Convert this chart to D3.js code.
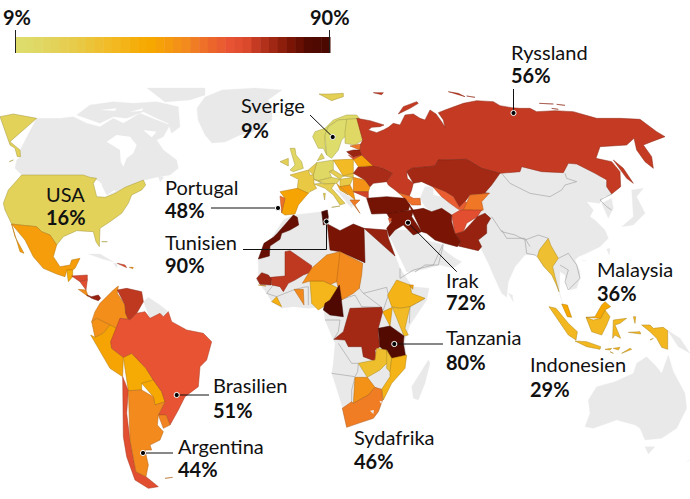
<!DOCTYPE html>
<html>
<head>
<meta charset="utf-8">
<script src="https://cdn.jsdelivr.net/npm/d3@7"></script>
<style>
body { margin: 0; background: #fff; }
text { font-family: Lato, sans-serif; font-size: 20px; fill: #111; }
text.pct { font-weight: 700; }
</style>
</head>
<body>
<div class="chart"></div>
<script>
const width = 690
const height = 499

// share of respondents, by country (labelled ones are exact)
const names = ['USA','Mexico','Guatemala','Honduras','Nicaragua','CostaRica','Panama','DomRep','PuertoRico',
  'Colombia','Venezuela','Ecuador','Peru','Bolivia','Paraguay','Brasilien','Chile','Argentina','Uruguay',
  'Sverige','Norway','Finland','Iceland','UK','Ireland','France','Spain','Portugal','Germany','Benelux','Denmark','Switzerland',
  'Poland','Czech','Slovakia','Austria','Italy','Hungary','Romania','Bulgaria','Serbia','Croatia','Greece',
  'Ukraine','Belarus','Estonia','Latvia','Lithuania','Caucasus','Ryssland','Kazakhstan','Uzbekistan','Kyrgyz',
  'Afghanistan','Pakistan','Iran','Irak','Turkey','Israel','Egypt','Libya','Tunisien','Morocco','Mali','Senegal',
  'Bissau','Ghana','Liberia','Nigeria','Niger','Chad','Cameroon','Ethiopia','Djibouti','Kenya','Uganda','Tanzania','DRC',
  'Zambia','Malawi','Mozambique','Botswana','Sydafrika','Myanmar','Indonesien','Malaysia']
const rates = [16,39,34,53,52,43,66,52,41,
  43,57,42,37,35,36,51,52,44,45,
  9,11,12,17,13,17,21,37,48,12,19,14,16,
  28,18,22,15,18,20,42,54,40,38,46,
  62,38,47,65,52,48,56,63,50,47,
  52,66,72,72,73,50,66,72,90,76,57,64,
  38,44,32,30,43,44,85,31,38,28,34,80,63,
  26,25,31,42,46,25,29,36]

const legendValues = [9,10,12,14,16,18,19,21,23,25,27,29,31,33,35,36,38,40,42,44,46,48,49,50,51,52,53,56,60,64,68,72,76,80,85,90]
const colorStops = [9,16,29,36,44,48,51,56,72,80,90]
const colorRange = ['#dedd6c','#e3d25a','#f3b81f','#f7a800','#f28a1e','#ee7029','#e85333','#c43a22','#7a1404','#530a00','#4a0800']

const labelNames = ['Ryssland','Sverige','USA','Portugal','Tunisien','Irak','Tanzania','Malaysia','Indonesien','Brasilien','Argentina','Sydafrika']
const labelValues = ['56%','9%','16%','48%','90%','72%','80%','36%','29%','51%','44%','46%']

// the map was traced in crops of the picture at 3x, one crop per area
const tiles = {
  na: [0,100], eu: [240,90], ce: [290,120], ru: [430,40], me: [370,150],
  af: [240,200], za: [310,340], se: [480,210], sa: [60,280], oc: [530,330]
}

// grey land, drawn first
const greyLand = [
  ['na',[[110,55],[180,55],[220,50],[260,70],[300,80],[340,55],[370,70],[420,40],[470,60],[510,75],[490,110],[470,120],[490,150],[530,180],[535,205],[510,225],[470,232],[435,240],[400,255],[375,262],[345,278],[320,285],[300,245],[280,235],[250,225],[65,225],[45,205],[50,180],[62,170],[60,150],[30,125]]],
  ['na',[[615,-9],[666,-30],[765,-36],[846,-30],[804,0],[816,24],[816,60],[786,84],[750,99],[720,105],[675,126],[636,129],[615,105],[594,60],[591,24],[636,12]]],
  ['na',[[230,45],[270,15],[340,5],[400,10],[470,5],[535,20],[540,80],[515,100],[505,70],[470,55],[430,35],[380,55],[340,50],[300,70],[260,60]]],
  ['na',[[441,-36],[615,-36],[615,-15],[570,0],[495,6],[450,-6]]],
  ['na',[[475,228],[492,232],[480,245],[470,238]]],
  ['na',[[265,462],[300,462],[340,485],[310,478],[280,470]]],
  ['na',[[340,490],[352,490],[350,505],[340,500]]],
  ['sa',[[250,65],[265,52],[300,75],[325,95],[310,110],[300,100],[270,115],[255,95]]],
  ['af',[[130,60],[160,45],[245,35],[258,60],[265,72],[300,92],[340,72],[372,85],[440,90],[465,165],[480,205],[510,250],[520,260],[567,265],[560,300],[510,375],[495,420],[497,470],[485,510],[450,550],[428,600],[415,635],[400,655],[350,670],[320,680],[308,625],[285,550],[275,520],[280,490],[285,430],[280,420],[255,360],[250,320],[205,325],[160,320],[125,325],[95,305],[80,280],[50,240],[55,225],[55,175],[100,110]]],
  ['za',[[355,60],[360,70],[345,130],[325,180],[310,175],[305,140],[330,100]]],
  ['me',[[57,255],[75,240],[135,240],[165,270],[215,283],[222,300],[255,325],[275,335],[250,355],[210,345],[130,366],[110,365],[80,330]]],
  ['me',[[165,110],[190,110],[190,135],[215,140],[265,178],[245,195],[215,175],[185,185],[165,170],[150,145],[165,130]]],
  ['ce',[[135,205],[195,240],[185,265],[165,235]]],
  ['se',[[-40,-200],[250,-200],[395,-70],[395,-45],[370,-40],[360,-20],[320,-25],[340,0],[330,20],[345,30],[375,60],[385,85],[360,110],[320,130],[295,140],[285,150],[300,185],[300,205],[290,235],[270,240],[258,220],[255,195],[240,185],[238,245],[250,285],[228,222],[215,190],[190,170],[170,135],[160,135],[135,135],[105,170],[85,215],[80,262],[65,250],[40,195],[25,160],[10,130],[0,110],[-40,100]]],
  ['se',[[365,-20],[395,-35],[400,-5],[385,25],[370,0]]],
  ['se',[[85,250],[97,255],[100,275],[90,280]]],
  ['se',[[380,118],[390,115],[388,135],[380,132]]],
  ['se',[[305,150],[318,152],[312,162]]],
  ['ru',[[605,450],[640,445],[620,470],[645,520],[610,555],[575,560],[610,530],[615,490]]],
  ['oc',[[412,0],[450,25],[480,70],[445,50],[412,58]]],
  ['oc',[[415,75],[430,125],[465,190],[470,235],[440,295],[395,325],[345,330],[330,295],[315,285],[260,270],[190,295],[165,290],[180,250],[175,210],[200,170],[255,155],[310,130],[320,100],[350,80],[375,105],[395,130],[410,110]]],
  ['oc',[[345,350],[375,350],[355,372],[345,370]]],
  ['oc',[[470,395],[480,390],[480,397]]]
]

// white water cut back out of the land
const water = [
  ['na',[[320,125],[350,105],[390,110],[410,135],[400,160],[380,175],[370,200],[362,185],[360,150],[330,145]]],
  ['na',[[430,90],[470,95],[455,112],[430,105]]],
  ['na',[[300,30],[350,25],[345,32],[305,38]]],
  ['na',[[390,35],[430,25],[425,33],[395,42]]],
  ['na',[[450,30],[490,25],[480,40]]],
  ['na',[[255,228],[295,235],[270,240]]],
  ['na',[[295,255],[305,250],[305,280],[295,285]]],
  ['na',[[310,250],[330,265],[315,272]]],
  ['na',[[320,285],[345,270],[345,275],[322,290]]]
]

// coloured countries: name, tile, rings
const shapes = [
  ['USA','na',[[[65,225],[250,225],[270,232],[290,235],[280,250],[290,290],[315,292],[345,280],[375,262],[430,240],[437,255],[425,270],[395,285],[385,310],[365,340],[330,365],[300,385],[298,440],[288,425],[280,395],[230,392],[190,410],[170,435],[150,405],[125,395],[110,380],[60,375],[35,372],[15,330],[10,310],[25,270],[45,240]],
    [[0,50],[40,42],[110,55],[30,125],[60,150],[62,170],[52,170],[45,145],[30,135],[0,130]],[[28,185],[40,180],[30,195]],[[305,425],[322,425],[315,445]]]],
  ['Mexico','na',[[[35,372],[60,375],[110,380],[125,395],[150,405],[170,435],[160,470],[180,500],[210,495],[215,480],[240,475],[225,505],[218,510],[200,510],[195,530],[170,522],[130,505],[100,470],[75,420],[55,385]],[[35,372],[45,410],[72,460],[60,455],[40,410]]]],
  ['Guatemala','na',[[[200,510],[218,510],[218,530],[205,545],[190,530]]]],
  ['Honduras','na',[[[215,528],[262,525],[262,540],[240,545],[222,545]]]],
  ['Nicaragua','na',[[[240,545],[262,540],[258,570],[240,567]]]],
  ['CostaRica','na',[[[235,568],[258,570],[265,590],[245,585]]]],
  ['DomRep','na',[[[352,490],[375,495],[380,503],[352,505]]]],
  ['PuertoRico','na',[[[388,502],[400,502],[398,506],[388,506]]]],
  ['Panama','sa',[[[80,45],[95,50],[115,45],[122,55],[115,62],[95,55],[85,60]]]],
  ['Colombia','sa',[[[160,30],[175,18],[172,40],[195,75],[197,100],[205,118],[180,115],[178,150],[150,135],[130,125],[110,115],[95,125],[105,95],[120,70],[125,50]]]],
  ['Venezuela','sa',[[[172,30],[200,25],[245,35],[250,65],[230,100],[210,120],[205,118],[197,100],[195,75],[172,40]]]],
  ['Ecuador','sa',[[[95,125],[110,115],[150,135],[130,160],[105,172],[92,165]]]],
  ['Peru','sa',[[[92,165],[105,172],[130,160],[150,135],[178,150],[152,185],[155,205],[190,232],[188,290],[150,265],[120,220]]]],
  ['Bolivia','sa',[[[190,232],[215,220],[258,265],[280,300],[245,310],[245,330],[205,332],[188,290]]]],
  ['Paraguay','sa',[[[245,310],[280,300],[305,335],[315,365],[285,375],[280,350],[245,330]]]],
  ['Brasilien','sa',[[[180,115],[205,118],[210,120],[230,100],[255,95],[270,115],[300,100],[310,110],[325,95],[335,125],[380,150],[430,160],[455,185],[440,240],[420,260],[415,320],[375,350],[355,390],[330,435],[318,405],[295,405],[315,365],[305,335],[280,300],[258,265],[215,220],[190,232],[155,205],[152,185],[178,150]]]],
  ['Chile','sa',[[[188,290],[205,332],[200,400],[210,480],[228,575],[258,590],[295,620],[265,625],[225,600],[200,530],[190,470],[185,350]]]],
  ['Argentina','sa',[[[205,332],[245,330],[280,350],[285,375],[315,365],[295,405],[292,435],[310,455],[300,480],[270,495],[275,510],[255,510],[265,555],[258,590],[228,575],[210,480],[200,400]],[[315,595],[338,592],[330,598]]]],
  ['Uruguay','sa',[[[295,405],[318,405],[330,435],[310,445],[292,435]]]],
  ['Iceland','eu',[[[237,12],[270,12],[310,10],[310,20],[275,32],[245,20]]]],
  ['Norway','eu',[[[218,140],[225,125],[255,115],[280,90],[320,75],[350,75],[358,85],[320,88],[295,90],[265,110],[255,135],[255,160],[260,195],[250,175],[235,175],[218,160]]]],
  ['Sverige','eu',[[[255,135],[265,110],[295,90],[320,88],[322,115],[315,125],[335,120],[305,150],[295,180],[275,205],[260,195],[255,160]]]],
  ['Finland','eu',[[[320,88],[358,85],[360,115],[368,150],[345,165],[315,160],[315,125],[322,115]]]],
  ['UK','eu',[[[150,175],[165,175],[168,195],[185,215],[190,235],[160,245],[150,240],[165,225],[155,205]]]],
  ['Ireland','eu',[[[120,215],[145,205],[145,228],[120,232]]]],
  ['France','ce',[[[55,150],[60,165],[70,165],[72,178],[72,192],[80,205],[60,215],[55,220],[22,205],[25,178],[0,165],[35,155]]]],
  ['Spain','eu',[[[120,305],[172,295],[205,310],[175,345],[165,372],[135,375],[125,368],[135,325],[120,318]]]],
  ['Portugal','eu',[[[120,318],[135,325],[125,368],[118,362]]]],
  ['Germany','ce',[[[80,128],[130,120],[130,150],[118,155],[125,172],[85,182],[72,178],[70,165],[75,145]]]],
  ['Benelux','ce',[[[55,150],[80,128],[75,145],[70,165],[60,165]]]],
  ['Denmark','ce',[[[82,122],[95,100],[103,115],[95,125]]]],
  ['Switzerland','ce',[[[72,178],[85,182],[95,190],[72,192]]]],
  ['Poland','ce',[[[130,120],[178,118],[190,118],[190,160],[160,168],[130,150]]]],
  ['Czech','ce',[[[118,155],[130,150],[160,168],[150,178],[125,172]]]],
  ['Slovakia','ce',[[[160,168],[190,160],[190,172],[150,178]]]],
  ['Austria','ce',[[[85,182],[125,172],[150,178],[140,190],[105,192],[95,190]]]],
  ['Italy','ce',[[[72,192],[95,190],[105,192],[135,190],[125,205],[165,250],[150,255],[130,225],[105,205],[85,205]],[[100,220],[106,220],[104,240],[98,238]],[[125,262],[150,258],[145,270]]]],
  ['Hungary','ce',[[[150,178],[190,172],[180,195],[150,200],[140,190]]]],
  ['Romania','ce',[[[190,172],[225,180],[240,200],[235,215],[190,215],[180,195]]]],
  ['Bulgaria','ce',[[[190,215],[235,215],[235,235],[195,240]]]],
  ['Serbia','ce',[[[150,200],[180,195],[190,215],[195,240],[180,232]]]],
  ['Croatia','ce',[[[140,190],[150,200],[175,225],[150,210],[135,205]]]],
  ['Greece','ce',[[[180,240],[210,240],[195,255],[210,280],[190,275]]]],
  ['Ukraine','ce',[[[190,160],[205,140],[250,137],[280,145],[308,160],[290,185],[250,190],[240,200],[225,180],[190,172]]]],
  ['Belarus','ce',[[[190,118],[215,105],[250,137],[205,140],[190,160]]]],
  ['Estonia','ce',[[[180,78],[212,72],[210,90],[190,90]]]],
  ['Latvia','ce',[[[170,95],[190,90],[210,90],[215,105],[190,112],[175,105]]]],
  ['Lithuania','ce',[[[175,105],[190,112],[215,105],[190,118],[178,118]]]],
  ['Ryssland','ru',[[[-220,235],[-180,242],[-138,255],[-150,260],[-175,262],[-185,270],[-160,278],[-140,270],[-125,262],[-110,250],[-90,255],[-75,225],[-50,222],[-30,235],[-15,240],[0,210],[18,222],[35,245],[45,262],[40,240],[25,218],[45,210],[100,190],[140,182],[190,185],[210,197],[245,203],[270,205],[300,205],[320,215],[375,212],[430,215],[500,235],[570,235],[630,238],[680,275],[705,290],[665,305],[640,315],[665,350],[670,385],[645,365],[620,330],[612,295],[590,315],[510,320],[498,355],[545,365],[570,395],[572,440],[545,462],[530,440],[530,420],[495,400],[440,372],[415,370],[400,398],[335,395],[275,380],[270,395],[210,400],[155,385],[110,358],[25,360],[15,378],[-55,385],[-70,395],[-68,415],[-50,430],[-55,450],[-62,468],[-95,458],[-105,450],[-125,435],[-130,425],[-112,400],[-140,385],[-170,378],[-205,345],[-210,330],[-208,312],[-202,300],[-210,260]],
    [[550,360],[580,385],[610,430],[590,415],[565,380]],
    [[55,155],[85,160],[105,170],[80,168]],[[110,168],[135,172],[130,177]],[[328,190],[370,192],[360,198]],[[380,193],[405,196],[385,198]],[[365,205],[385,208],[372,212]],
    [[-95,222],[-80,200],[-40,185],[-35,190],[-60,205],[-75,225]],[[-170,158],[-140,158],[-145,164],[-165,164]]]],
  ['Kazakhstan','me',[[[110,65],[125,55],[195,48],[205,30],[290,28],[335,55],[390,70],[365,105],[345,128],[358,130],[300,135],[285,155],[268,172],[250,140],[225,125],[188,110],[155,95],[130,100],[112,85]]]],
  ['Uzbekistan','me',[[[188,110],[225,125],[250,140],[268,172],[285,155],[295,160],[280,180],[265,178],[240,160],[215,140],[190,135]]]],
  ['Kyrgyz','me',[[[300,135],[358,130],[335,155],[340,180],[322,185],[305,180],[280,180],[295,160]]]],
  ['Caucasus','me',[[[85,128],[118,138],[130,145],[150,145],[152,165],[125,165],[118,155]]]],
  ['Afghanistan','me',[[[245,195],[270,180],[310,180],[335,180],[322,200],[290,220],[280,245],[255,252],[245,215]]]],
  ['Pakistan','me',[[[322,200],[345,190],[362,205],[350,225],[350,250],[325,270],[335,290],[325,302],[265,288],[272,275],[255,252],[280,245],[290,220]]]],
  ['Iran','me',[[[115,160],[130,180],[160,175],[185,185],[215,175],[245,195],[245,215],[255,252],[272,275],[262,290],[225,280],[195,270],[170,250],[155,245],[125,200]]]],
  ['Irak','me',[[[50,190],[100,182],[130,180],[125,200],[155,245],[130,255],[100,225],[75,240],[58,260],[50,235],[65,215],[55,210]]]],
  ['Turkey','eu',[[[380,325],[440,320],[495,325],[510,345],[505,360],[450,370],[395,372],[375,355]]]],
  ['Israel','me',[[[55,205],[65,205],[60,220],[53,218]]]],
  ['Egypt','af',[[[372,85],[440,90],[445,115],[465,168],[375,168]]]],
  ['Libya','af',[[[262,72],[300,92],[340,72],[372,85],[375,188],[300,155],[270,150],[262,130]]]],
  ['Tunisien','af',[[[245,35],[262,30],[265,50],[262,70],[250,75],[240,60]]]],
  ['Morocco','af',[[[160,45],[172,52],[176,75],[150,90],[125,100],[120,118],[90,138],[88,168],[55,177],[72,130],[100,112],[112,100],[118,70]]]],
  ['Mali','af',[[[135,155],[150,152],[215,197],[215,215],[190,225],[165,240],[145,250],[130,275],[120,260],[95,255],[92,232],[135,228],[145,215]]]],
  ['Senegal','af',[[[50,235],[65,218],[85,225],[93,235],[93,255],[60,253],[50,245]]]],
  ['Bissau','af',[[[55,255],[78,258],[65,265]]]],
  ['Ghana','af',[[[162,268],[190,268],[192,315],[165,325]]]],
  ['Liberia','af',[[[95,305],[110,290],[125,320],[115,328]]]],
  ['Nigeria','af',[[[210,243],[250,243],[272,253],[295,265],[285,285],[270,300],[250,320],[235,330],[215,310],[205,260]]]],
  ['Niger','af',[[[187,250],[215,205],[260,165],[300,155],[307,205],[290,245],[272,253],[250,243],[210,243],[205,260]]]],
  ['Chad','af',[[[300,155],[368,190],[365,225],[358,265],[340,280],[305,300],[295,265],[290,245],[307,205]]]],
  ['Cameroon','af',[[[298,255],[303,290],[310,350],[270,345],[250,330],[255,310],[270,300],[285,285]]]],
  ['Ethiopia','af',[[[470,240],[510,255],[515,280],[555,295],[510,320],[480,325],[455,320],[443,285],[455,260]]]],
  ['Djibouti','af',[[[508,255],[520,255],[518,268],[510,268]]]],
  ['Uganda','af',[[[428,335],[457,322],[450,378],[415,385]]]],
  ['Kenya','af',[[[457,322],[480,325],[510,320],[495,385],[505,405],[492,408],[450,378]]]],
  ['DRC','af',[[[330,325],[425,322],[428,335],[415,385],[415,405],[420,440],[405,450],[410,485],[370,470],[365,440],[325,440],[315,420],[282,418],[310,395],[325,350]]]],
  ['Tanzania','af',[[[415,385],[450,378],[492,408],[490,430],[497,470],[455,475],[420,440],[415,405]]]],
  ['Zambia','za',[[[145,70],[195,60],[200,25],[230,30],[235,65],[210,90],[172,112],[143,95]]]],
  ['Malawi','za',[[[230,30],[245,55],[243,75],[240,95],[230,85],[235,65]]]],
  ['Mozambique','za',[[[245,55],[290,45],[285,85],[245,130],[220,180],[215,148],[240,110],[240,95],[243,75]]]],
  ['Botswana','za',[[[135,112],[172,112],[195,142],[175,165],[130,190],[125,150]]]],
  ['Sydafrika','za',[[[125,185],[130,190],[175,165],[195,142],[215,148],[218,180],[205,215],[190,235],[145,250],[110,262],[97,205],[125,205]]]],
  ['Myanmar','se',[[[205,85],[212,105],[235,145],[218,170],[225,200],[237,245],[228,222],[215,195],[192,170],[172,140],[178,120],[190,95]]]],
  ['Indonesien','se',[[[207,290],[228,295],[265,340],[292,365],[288,390],[265,375],[235,335]],[[285,393],[320,395],[362,410],[360,418],[320,410],[295,405]],[[318,322],[340,330],[362,325],[375,300],[390,320],[380,345],[365,375],[335,365],[318,345]],
    [[400,330],[440,325],[420,340],[405,345],[422,385],[405,375],[398,385],[392,370]],[[485,345],[510,345],[520,355],[550,352],[563,362],[563,418],[545,412],[530,385],[510,365],[490,355]],
    [[460,320],[467,320],[465,340],[460,338]],[[445,367],[480,365],[482,372],[450,372]],[[510,390],[520,385],[512,398]],[[375,418],[395,415],[390,420],[378,422]],[[400,415],[420,412],[415,420],[400,420]],[[425,430],[450,415],[455,418],[430,432]],[[390,425],[400,430],[392,430]]]],
  ['Malaysia','se',[[[318,322],[345,320],[365,285],[375,275],[392,290],[375,300],[362,325],[340,330]],[[245,282],[262,285],[275,322],[262,320],[248,300]]]]
]
// grey cut-outs inside South Africa: Lesotho and Swaziland
const enclaves = [
  ['za',[[180,212],[192,210],[190,222],[180,224]]],
  ['za',[[208,182],[216,184],[214,193],[208,192]]]
]

// thin grey borders between the grey countries
const greyBorders = [
  ['ru',[[215,400],[240,430],[300,460],[360,470],[395,450],[405,435],[440,425],[410,415],[405,400]]],
  ['ru',[[545,462],[510,480],[530,500],[545,510]]],
  ['se',[[35,20],[65,65],[105,75],[135,90],[175,75],[205,85]]],
  ['se',[[135,90],[140,130],[165,135],[172,140]]],
  ['se',[[235,145],[265,130],[290,165],[300,205],[265,240],[255,215],[265,180],[240,165]]],
  ['me',[[395,240],[410,265],[465,265],[480,290]]],
  ['me',[[135,366],[165,345],[205,345],[220,285]]],
  ['af',[[360,225],[358,265],[370,280],[440,262],[445,285],[430,330]]],
  ['af',[[370,280],[425,322]]],
  ['af',[[480,205],[480,235],[520,210],[580,195],[610,130]]],
  ['af',[[555,295],[510,320],[508,370]]],
  ['af',[[100,255],[80,280],[110,290],[160,270],[190,262],[205,260]]],
  ['af',[[205,260],[205,315]]],
  ['af',[[300,300],[345,285],[365,320],[425,322]]],
  ['af',[[255,360],[300,360],[295,395],[280,420]]],
  ['za',[[65,100],[135,110],[143,95],[145,70],[125,70],[85,10]]],
  ['za',[[135,112],[125,150],[125,205],[97,205]]]
]

const svg = d3.select('.chart').append('svg')
  .attr('width', width)
  .attr('height', height)
  .style('display', 'block')

const rateOf = new Map(d3.zip(names, rates))
const color = d3.scaleLinear().domain(colorStops).range(colorRange)

// CREATE MAP PROJECTIONS, one per crop
const paths = {}
Object.entries(tiles).forEach(([k, origin]) => {
  paths[k] = d3.geoPath(d3.geoIdentity().scale(1 / 3).translate(origin))
})
const poly = ring => ({type: 'Polygon', coordinates: [ring]})

const map = svg.append('g')

map.selectAll('path.land').data(greyLand).join('path')
  .attr('class', 'land')
  .attr('d', d => paths[d[0]](poly(d[1])))
  .attr('fill', '#e9e9e9')
  .attr('stroke', '#e9e9e9')
  .attr('stroke-width', 0.3)

map.selectAll('path.gb').data(greyBorders).join('path')
  .attr('class', 'gb')
  .attr('d', d => paths[d[0]]({type: 'LineString', coordinates: d[1]}))
  .attr('fill', 'none')
  .attr('stroke', '#9c9c9c')
  .attr('stroke-width', 0.6)

map.selectAll('path.water').data(water).join('path')
  .attr('class', 'water')
  .attr('d', d => paths[d[0]](poly(d[1])))
  .attr('fill', '#fff')

map.selectAll('path.country').data(shapes).join('path')
  .attr('class', 'country')
  .attr('d', d => paths[d[1]]({type: 'MultiPolygon', coordinates: d[2].map(r => [r])}))
  .attr('fill', d => color(rateOf.get(d[0])))
  .attr('stroke', d => d3.color(color(rateOf.get(d[0]))).darker(0.9))
  .attr('stroke-width', 0.5)

map.selectAll('path.enclave').data(enclaves).join('path')
  .attr('class', 'enclave')
  .attr('d', d => paths[d[0]](poly(d[1])))
  .attr('fill', '#e9e9e9')

// LEGEND
const legendX = d3.scaleBand().domain(legendValues).range([16, 330])
svg.append('g').selectAll('rect').data(legendValues).join('rect')
  .attr('x', d => legendX(d))
  .attr('y', 37)
  .attr('width', legendX.bandwidth() + 0.5)
  .attr('height', 16)
  .attr('fill', d => color(d))

const legendAxis = d3.scaleLinear().domain([9, 90]).range([15.5, 329.5])
svg.append('g').selectAll('line').data([9, 90]).join('line')
  .attr('x1', d => legendAxis(d)).attr('x2', d => legendAxis(d))
  .attr('y1', 30).attr('y2', 53)
  .attr('stroke', '#222')
svg.append('g').selectAll('text').data([9, 90]).join('text')
  .attr('class', 'pct')
  .attr('x', d => d === 9 ? 3 : 310)
  .attr('y', 25)
  .text(d => d + '%')

// LABELS AND LEADERS
const labelAnchors = [[511,60,83],[241,113,138],[46,202,225],[165,195,218],[165,250,273],[446,288,310],[446,345,370],[597,277,301],[530,372,397],[213,393,418],[178,454,477],[354,445,469]]
const leaders = [
  [[513.5,89],[513.5,113]],
  [[310,115],[332.7,137]],
  null,
  [[211,208],[278,208]],
  [[243,249.5],[326.5,249.5],[326.5,221.5]],
  [[456.7,271.7],[408,222.7]],
  [[443,344],[394.3,344]],
  null,
  null,
  [[209,395],[176.7,395]],
  [[173,453],[143,453]],
  null
]

const line = d3.line()
svg.append('g').selectAll('path').data(leaders.filter(d => d)).join('path')
  .attr('d', d => line(d))
  .attr('fill', 'none')
  .attr('stroke', '#111')
  .attr('stroke-width', 1)
svg.append('g').selectAll('circle').data(leaders.filter(d => d)).join('circle')
  .attr('cx', d => d[d.length - 1][0])
  .attr('cy', d => d[d.length - 1][1])
  .attr('r', 2.6)
  .attr('fill', '#000')
  .attr('stroke', '#fff')
  .attr('stroke-width', 1)

const labels = svg.append('g').selectAll('g').data(labelNames).join('g')
labels.append('text')
  .attr('x', (d, i) => labelAnchors[i][0])
  .attr('y', (d, i) => labelAnchors[i][1])
  .text(d => d)
labels.append('text')
  .attr('class', 'pct')
  .attr('x', (d, i) => labelAnchors[i][0])
  .attr('y', (d, i) => labelAnchors[i][2])
  .text((d, i) => labelValues[i])
</script>
</body>
</html>
